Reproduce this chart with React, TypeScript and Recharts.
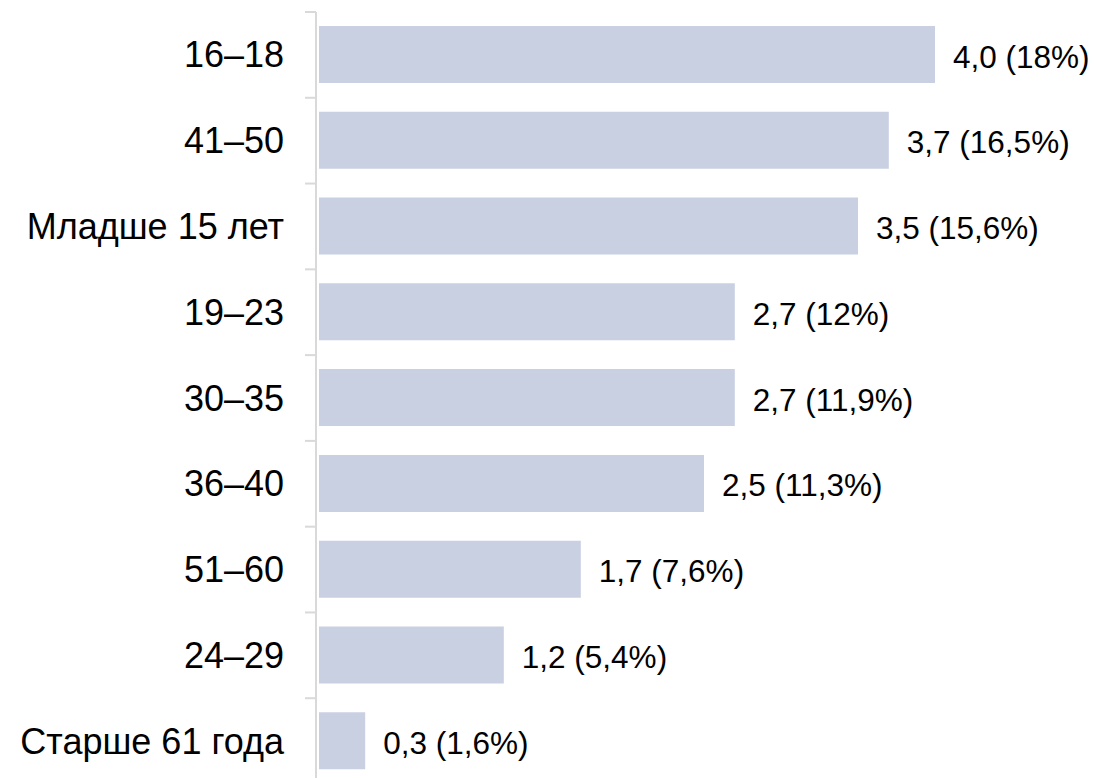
import { Bar, BarChart, LabelList, XAxis, YAxis } from "recharts";

const CATEGORIES = [
  "16–18",
  "41–50",
  "Младше 15 лет",
  "19–23",
  "30–35",
  "36–40",
  "51–60",
  "24–29",
  "Старше 61 года",
];
const VALUES = [4.0, 3.7, 3.5, 2.7, 2.7, 2.5, 1.7, 1.2, 0.3];
const SHARES = [18, 16.5, 15.6, 12, 11.9, 11.3, 7.6, 5.4, 1.6];

const data = CATEGORIES.map((name, i) => ({
  name,
  value: VALUES[i],
  share: SHARES[i],
}));

const W = 1096;
const H = 790;
const TOP = 12;
const BOTTOM = 6;
const AXIS_W = 316;
const BAND = (H - TOP - BOTTOM) / CATEGORIES.length;
const FONT = "'Liberation Sans', Arial, sans-serif";

const fmt = (n: number) => String(n).replace(".", ",");

function CategoryTick(props: any) {
  const { y, payload } = props;
  const top = y - BAND / 2;
  return (
    <g>
      <line x1={AXIS_W - 11} x2={AXIS_W} y1={top} y2={top} stroke="#d9d9d9" strokeWidth={2} />
      <text
        x={AXIS_W - 32}
        y={y}
        textAnchor="end"
        dominantBaseline="central"
        fontSize={36}
        fontFamily={FONT}
        fill="#000"
      >
        {payload.value}
      </text>
    </g>
  );
}

export default function App() {
  return (
    <div
      style={{
        position: "absolute",
        left: 0,
        top: 0,
        width: W,
        height: 778,
        overflow: "hidden",
        background: "#fff",
      }}
    >
      <BarChart
        width={W}
        height={H}
        data={data}
        layout="vertical"
        margin={{ top: TOP, right: 161, bottom: BOTTOM, left: 0 }}
        barSize={57}
      >
        <XAxis type="number" domain={[0, 4]} hide padding={{ left: 3, right: 0 }} />
        <YAxis
          type="category"
          dataKey="name"
          width={AXIS_W}
          axisLine={{ stroke: "#d9d9d9", strokeWidth: 2 }}
          tickLine={false}
          tick={<CategoryTick />}
          interval={0}
        />
        <Bar dataKey="value" fill="#c8d0e2" isAnimationActive={false}>
          <LabelList
            dataKey="value"
            position="right"
            content={(p: any) => {
              const d = data[p.index];
              return (
                <text
                  x={p.x + p.width + 18}
                  y={p.y + p.height / 2 + 2}
                  dominantBaseline="central"
                  fontSize={31.5}
                  fontFamily={FONT}
                  fill="#000"
                >
                  {`${d.value.toFixed(1).replace(".", ",")} (${fmt(d.share)}%)`}
                </text>
              );
            }}
          />
        </Bar>
      </BarChart>
    </div>
  );
}
